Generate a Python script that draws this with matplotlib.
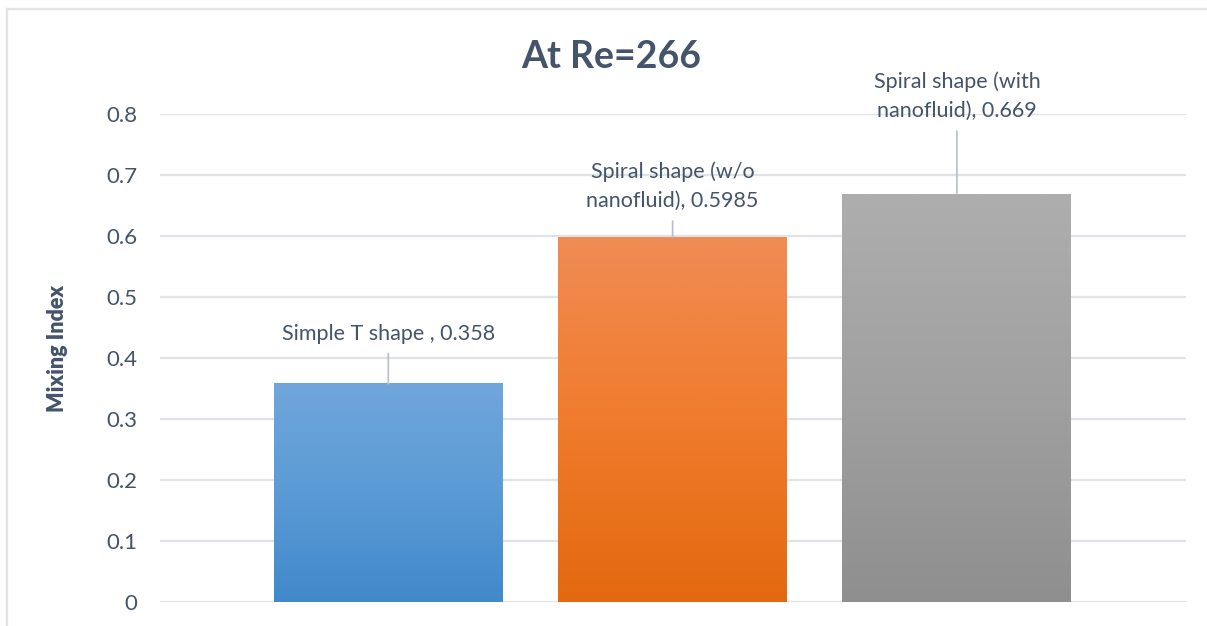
import numpy as np
import matplotlib
matplotlib.use("Agg")
import matplotlib.pyplot as plt
from matplotlib.colors import LinearSegmentedColormap
from matplotlib.lines import Line2D

# mixing index for each micromixer geometry
shapes = ["Simple T shape ", "Spiral shape (w/o\nnanofluid)", "Spiral shape (with\nnanofluid)"]
mixing_index = [0.358, 0.5985, 0.669]
value_text = ["0.358", "0.5985", "0.669"]
yticks = [0, 0.1, 0.2, 0.3, 0.4, 0.5, 0.6, 0.7, 0.8]

# gradient fills, top -> middle -> bottom
fills = [
    ["#70a6dc", "#5b9bd5", "#4189cb"],
    ["#f08c55", "#f07b2c", "#e2690f"],
    ["#aeaeae", "#a0a0a0", "#8f8f8f"],
]
# label offsets above the bar top (pixels)
label_dy = [50, 51, 98]

TXT = "#44546a"
GRID = "#dfe3e8"

plt.rcParams["font.family"] = ["Lato", "DejaVu Sans"]

W, H = 1207, 626
fig = plt.figure(figsize=(W / 100, H / 100), dpi=100)
ax = fig.add_axes([160 / W, 24 / H, 1025.5 / W, 487.7 / H])

x = np.arange(len(mixing_index))
bars = ax.bar(x, mixing_index, width=0.805, color="none", zorder=2)

for bar, cols in zip(bars, fills):
    cmap = LinearSegmentedColormap.from_list("g", cols[::-1])
    grad = np.linspace(0, 1, 256).reshape(-1, 1)
    x0, w, h = bar.get_x(), bar.get_width(), bar.get_height()
    ax.imshow(grad, cmap=cmap, origin="lower", aspect="auto",
              extent=[x0, x0 + w, 0, h], zorder=2)

for xi, v, name, vt, dy in zip(x, mixing_index, shapes, value_text, label_dy):
    ax.annotate(f"{name}, {vt}", xy=(xi, v), xytext=(0, dy),
                textcoords="offset pixels", ha="center", va="center",
                fontsize=15.5, color=TXT, linespacing=1.6,
                annotation_clip=False,
                arrowprops=dict(arrowstyle="-", color="#b4c0cf", lw=1.2,
                                shrinkA=5, shrinkB=0))

ax.set_xlim(-0.803, 2.804)
ax.set_ylim(0, 0.8)
ax.set_yticks(yticks)
ax.set_yticklabels([f"{t:g}" for t in yticks])
ax.set_xticks([])
ax.yaxis.grid(True, color=GRID, lw=1.6, zorder=0)
ax.set_axisbelow(True)
for s in ax.spines.values():
    s.set_visible(False)
ax.tick_params(axis="y", length=0, pad=16.5, labelsize=16, labelcolor=TXT)

ax.set_ylabel("Mixing Index", fontsize=15.5, fontweight="heavy", color=TXT)
ax.yaxis.set_label_coords(-92 / 1025.5, 0.52)

fig.text(611 / W, 1 - 57 / H, "At Re=266", ha="center", va="center",
         fontsize=27, fontweight="bold", color=TXT)

# chart frame
fig.add_artist(Line2D([7 / W, 7 / W], [0, 1 - 9 / H], color=GRID, lw=1.6))
fig.add_artist(Line2D([7 / W, 1], [1 - 9 / H, 1 - 9 / H], color=GRID, lw=1.6))

fig.savefig("out.png", dpi=100)
